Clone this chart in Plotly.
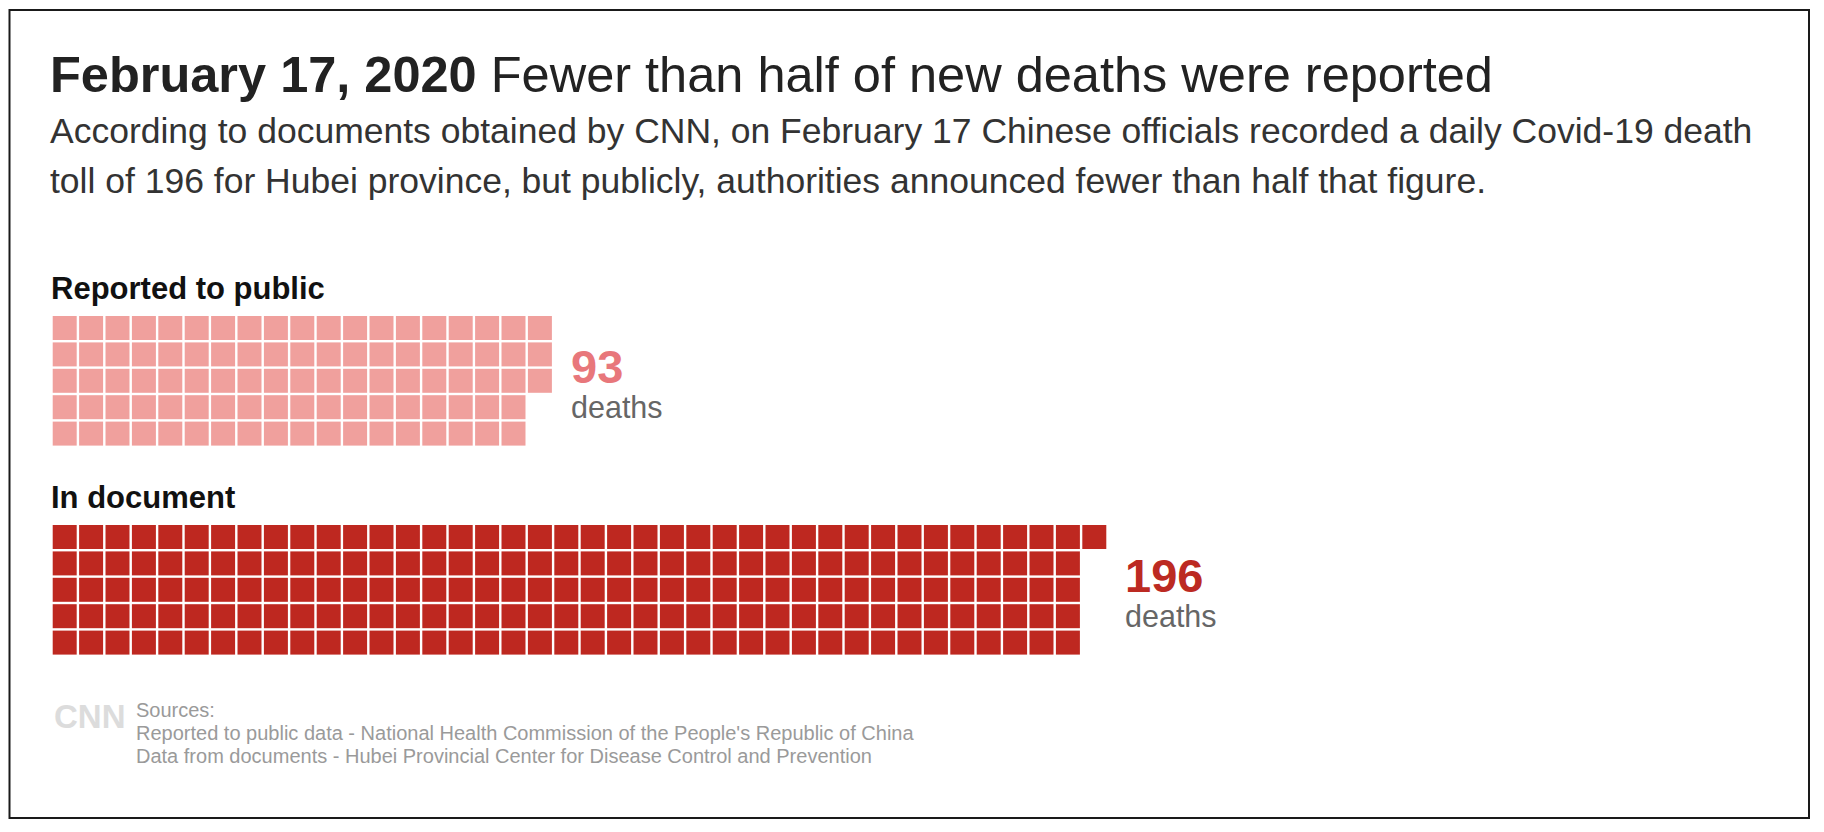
import plotly.graph_objects as go

# ---- data ----
categories = ["Reported to public", "In document"]
deaths = [93, 196]
cell_colors = ["#F0A09D", "#BE2820"]
number_colors = ["#E8777B", "#BC2A22"]
title_bold = "February 17, 2020"
title_rest = "Fewer than half of new deaths were reported"
subtitle_lines = [
    "According to documents obtained by CNN, on February 17 Chinese officials recorded a daily Covid-19 death",
    "toll of 196 for Hubei province, but publicly, authorities announced fewer than half that figure.",
]
source_lines = [
    "Sources:",
    "Reported to public data - National Health Commission of the People's Republic of China",
    "Data from documents - Hubei Provincial Center for Disease Control and Prevention",
]

# ---- layout constants (pixels) ----
W, H = 1824, 832
ROWS = 5
PITCH = 26.4
CELL = 24
X0 = 52.7
BLOCK_TOPS = [316, 525]
FONT = "Liberation Sans, Arial, Helvetica, sans-serif"

fig = go.Figure()

for k, (cat, n) in enumerate(zip(categories, deaths)):
    xs, ys = [], []
    for i in range(n):
        col, row = divmod(i, ROWS)
        xs.append(X0 + CELL / 2 + col * PITCH)
        ys.append(BLOCK_TOPS[k] + CELL / 2 + row * PITCH)
    fig.add_trace(go.Scatter(
        x=xs, y=ys, mode="markers", name=cat, hoverinfo="skip",
        marker=dict(symbol="square", size=CELL, color=cell_colors[k], line=dict(width=0)),
        showlegend=False,
    ))
    ncols = (n + ROWS - 1) // ROWS
    right = X0 + ncols * PITCH - (PITCH - CELL)
    top = BLOCK_TOPS[k]
    # category label
    fig.add_annotation(x=X0 - 4, y=top - 28, text="<b>" + cat + "</b>", showarrow=False,
                       xanchor="left", yanchor="middle",
                       font=dict(family=FONT, size=31, color="#111111"))
    # number
    fig.add_annotation(x=right + 17, y=top + 50, text="<b>" + str(n) + "</b>", showarrow=False,
                       xanchor="left", yanchor="middle",
                       font=dict(family=FONT, size=47, color=number_colors[k]))
    fig.add_annotation(x=right + 17, y=top + 91, text="deaths", showarrow=False,
                       xanchor="left", yanchor="middle",
                       font=dict(family=FONT, size=30.5, color="#666666"))

# title
fig.add_annotation(x=48, y=74, text="<b>" + title_bold + "</b> " + title_rest, showarrow=False,
                   xanchor="left", yanchor="middle",
                   font=dict(family=FONT, size=50.5, color="#222222"))
for j, line in enumerate(subtitle_lines):
    fig.add_annotation(x=48, y=131 + 50 * j, text=line, showarrow=False,
                       xanchor="left", yanchor="middle",
                       font=dict(family=FONT, size=35.5, color="#333333"))

# sources + logo
fig.add_annotation(x=52, y=716, text="<b>CNN</b>", showarrow=False, xanchor="left", yanchor="middle",
                   font=dict(family="Liberation Sans Narrow, " + FONT, size=33, color="#DCDCDC"))
for j, line in enumerate(source_lines):
    fig.add_annotation(x=134, y=710 + 23 * j, text=line, showarrow=False,
                       xanchor="left", yanchor="middle",
                       font=dict(family=FONT, size=20, color="#9A9A9A"))

# frame
fig.add_shape(type="rect", xref="x", yref="y", x0=9.5, y0=10, x1=1809, y1=818,
              line=dict(color="#1A1A1A", width=2), fillcolor="rgba(0,0,0,0)", layer="below")

fig.update_layout(
    width=W, height=H, margin=dict(l=0, r=0, t=0, b=0),
    paper_bgcolor="#FFFFFF", plot_bgcolor="#FFFFFF",
    xaxis=dict(range=[0, W], visible=False, fixedrange=True),
    yaxis=dict(range=[H, 0], visible=False, fixedrange=True),
)

fig.write_html("out.html")
